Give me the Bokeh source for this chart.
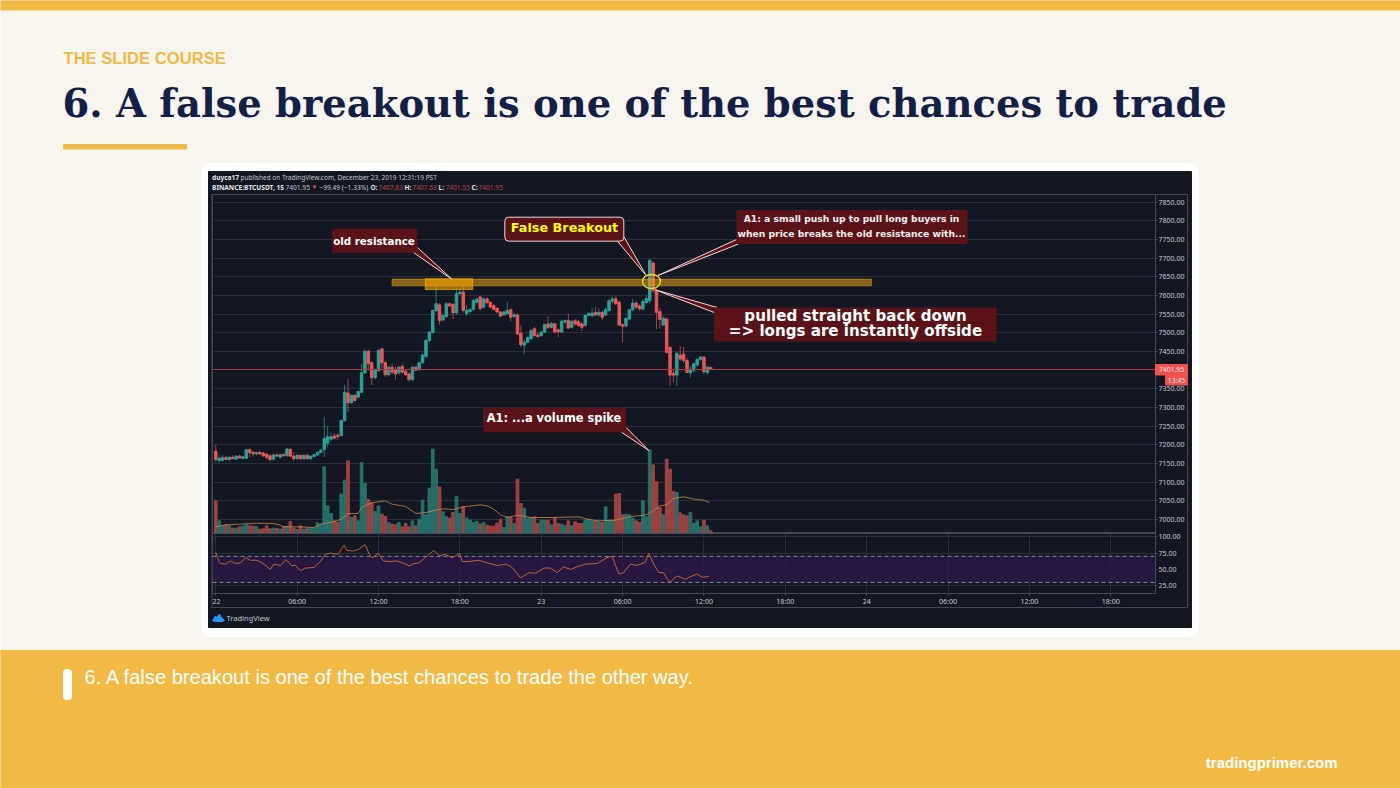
from bokeh.embed import file_html
from bokeh.resources import INLINE
from bokeh.plotting import figure
from bokeh.models import Range1d, FixedTicker, NumeralTickFormatter, Span
from bokeh.core.properties import value

opens = [7183,7158,7159,7166,7161,7167,7162,7170,7164,7164,7187,7180,7176,7180,7178,7175,7171,7162,7173,7167,7174,7171,7188,7170,7164,7172,7163,7172,7163,7169,7173,7180,7188,7205,7215,7224,7226,7225,7265,7339,7313,7332,7328,7341,7393,7451,7420,7380,7399,7457,7420,7388,7408,7402,7393,7410,7397,7390,7375,7408,7402,7420,7437,7480,7502,7560,7575,7535,7544,7578,7576,7554,7605,7609,7552,7557,7563,7582,7596,7569,7591,7582,7573,7566,7556,7548,7551,7562,7544,7548,7499,7467,7475,7484,7511,7494,7493,7502,7524,7515,7524,7508,7502,7529,7533,7515,7533,7530,7524,7520,7547,7546,7555,7548,7555,7548,7560,7585,7591,7582,7522,7518,7537,7562,7580,7572,7564,7581,7586,7687,7613,7557,7521,7537,7461,7392,7387,7440,7443,7426,7393,7400,7414,7429,7435,7394,7407.63]
highs = [7200,7172,7172,7171,7170,7172,7172,7174,7170,7189,7191,7185,7181,7184,7182,7178,7174,7176,7178,7176,7178,7191,7192,7180,7176,7174,7175,7176,7171,7177,7182,7188,7274,7250,7233,7232,7232,7268,7360,7377,7335,7336,7345,7417,7455,7455,7425,7405,7457,7460,7425,7412,7418,7410,7412,7415,7402,7394,7412,7412,7423,7444,7483,7505,7562,7627,7580,7552,7583,7583,7580,7618,7620,7625,7575,7567,7592,7595,7600,7595,7595,7585,7577,7568,7558,7559,7583,7565,7553,7552,7520,7480,7490,7510,7516,7500,7505,7525,7545,7530,7527,7512,7535,7536,7551,7535,7537,7535,7528,7550,7555,7568,7570,7566,7559,7568,7590,7597,7598,7586,7525,7541,7564,7590,7585,7576,7590,7600,7698,7692,7616,7566,7545,7541,7465,7400,7447,7465,7462,7432,7412,7420,7432,7438,7437,7412,7407.63]
lows = [7154,7152,7155,7160,7158,7162,7160,7164,7161,7162,7167,7170,7172,7173,7167,7162,7155,7158,7168,7163,7168,7169,7168,7158,7160,7161,7160,7161,7160,7166,7171,7177,7168,7195,7210,7215,7214,7223,7263,7288,7310,7316,7325,7339,7390,7400,7360,7375,7395,7405,7382,7383,7390,7375,7388,7392,7385,7370,7372,7398,7398,7418,7433,7476,7498,7556,7522,7530,7540,7570,7537,7548,7600,7555,7545,7552,7560,7578,7560,7565,7578,7566,7560,7553,7542,7545,7549,7530,7540,7495,7462,7444,7472,7482,7490,7488,7490,7500,7510,7512,7500,7488,7500,7525,7510,7512,7520,7516,7505,7517,7545,7542,7545,7543,7535,7545,7555,7580,7575,7518,7475,7515,7535,7558,7565,7560,7560,7578,7578,7608,7510,7512,7519,7445,7357,7368,7358,7425,7420,7392,7380,7395,7410,7425,7390,7388,7401.55]
closes = [7161,7164,7166,7161,7167,7163,7170,7165,7168,7187,7180,7176,7180,7176,7171,7167,7161,7173,7170,7174,7171,7189,7170,7163,7172,7163,7172,7163,7170,7174,7180,7186,7217,7222,7222,7218,7222,7265,7341,7313,7332,7319,7343,7393,7451,7417,7380,7402,7453,7420,7388,7408,7395,7390,7408,7395,7388,7375,7408,7400,7420,7441,7480,7502,7560,7578,7533,7547,7578,7572,7554,7605,7609,7560,7560,7563,7587,7590,7565,7591,7581,7569,7563,7556,7545,7556,7560,7542,7549,7497,7468,7475,7488,7506,7493,7490,7502,7522,7515,7525,7502,7503,7531,7533,7513,7531,7524,7520,7515,7547,7552,7553,7548,7555,7542,7562,7586,7591,7578,7521,7518,7539,7562,7580,7569,7564,7584,7592,7694,7613,7555,7536,7539,7448,7387,7387,7446,7430,7426,7394,7403,7417,7429,7435,7396,7408,7401.95]
volumes = [98,38,23,26,23,16,16,20,22,26,23,22,20,13,14,23,14,16,15,13,20,22,36,16,12,23,13,16,16,16,32,28,200,83,60,38,33,118,160,218,48,53,38,213,150,102,93,66,83,58,51,33,28,26,33,20,30,20,38,23,43,100,56,136,253,193,140,65,50,46,63,111,60,80,46,40,33,36,28,33,25,22,22,31,43,18,50,48,30,163,90,76,46,46,50,30,40,40,40,26,48,30,28,24,38,23,35,30,30,40,43,38,38,36,33,80,40,40,118,120,56,58,56,46,38,33,98,50,250,206,155,78,56,223,193,126,123,62,56,53,63,30,38,20,40,23,8]
vol_ma_bar = [0,3,7,12,17,19,20,24,29,31,35,37,39,42,43,46,50,52,56,59,62,65,67,70,73,78,80,82,84,86,89,93,100,107,110,113,118,122,127,129,131,133,135,138,141,144,145.5]
vol_ma = [20,26,28,31,30,25,20,20,18,28,36,43,60,60,78,92,98,88,81,60,63,70,74,72,80,86,83,73,56,48,55,48,48,50,42,38,40,50,56,68,83,86,105,110,103,100,93]
rsi_bar = [0,1,1.4,2.9,4.3,5.8,7.3,8.8,10.2,12.2,14.2,16.1,17.1,19.1,20.7,22.3,23.5,25,26.5,29,31,32.2,33.8,36,37.8,38.7,40.7,42.2,44,45.6,46.4,47.9,49.4,51,53.5,56,57.1,58.4,59.9,61.8,64.3,66,67.7,69.7,71.9,72.7,74.7,77.6,80,83,85.7,87.4,89.9,92.4,94.3,96.8,98.7,100.7,102.6,104.6,106.6,109,112.5,115.4,116.9,118.9,120.3,122.3,124.3,126.7,127.7,129.2,130.7,132,133.9,136.1,138.5,141.9,143.4,145.4]
rsi = [76,61,59,58,63,59,60,68,64,64,58,50,58,56,65,56,56,48,52,53,63,73,75,73,87,79,78,81,88,70,68,75,63,62,63,58,55,59,60,68,79,71,73,68,74,62,62,64,60,56,58,53,37,45,44,52,52,45,54,50,54,58,59,68,70,43,45,58,56,61,75,58,45,45,30,40,35,43,38,39]
price_ticks = [7000,7050,7100,7150,7200,7250,7300,7350,7450,7500,7550,7600,7650,7700,7750,7800,7850]
rsi_ticks = [25,50,75,100]
time_ticks = [0,24,48,72,96,120,144,168,192,216,240,264]
time_labels = ["22","06:00","12:00","18:00","23","06:00","12:00","18:00","24","06:00","12:00","18:00"]
last_price = 7401.95
resistance_low, resistance_high = 7626, 7644
resistance_start, resistance_end = 52, 193.4
touch_low, touch_high = 7616, 7645
touch_start, touch_end = 61.8, 75.8

GOLD = "#F0BA45"; CREAM = "#F8F5EF"; NAVY = "#141F45"; DARK = "#131722"
GRID = "#2a2f3c"; VGRID = "#333947"; FRAME = "#434958"; TICK = "#c9ccd3"
UP = "#2ba296"; DOWN = "#e9575a"; VUP = "#267068"; VDOWN = "#9c4244"
MAROON = "#5a1419"; EDGE = "#f0d9d9"

def place(fig, left, top):
    fig.styles = {"position": "absolute", "left": f"{left}px", "top": f"{top}px"}
    return fig

def page():
    fig = figure(width=1400, height=788, x_range=Range1d(0, 1400), y_range=Range1d(788, 0),
                 x_axis_type=None, y_axis_type=None, toolbar_location=None, output_backend="svg",
                 min_border=0, outline_line_color=None, background_fill_color=None, border_fill_color=None)
    fig.grid.visible = False
    return place(fig, 0, 0)

def txt(fig, x, y, s, font, size, color, style="normal", align="left"):
    fig.text([x], [y], text=[s], text_font=value(font), text_font_size=f"{size}px", text_color=color,
             text_font_style=style, text_align=align, text_baseline="middle")

slide = page()
slide.background_fill_color = CREAM
slide.border_fill_color = CREAM
slide.quad(left=0, right=1400, top=0, bottom=9.5, color=GOLD)
slide.quad(left=0, right=1400, top=650, bottom=788, color=GOLD)
slide.quad(left=63, right=186, top=144, bottom=148.5, color=GOLD)
slide.quad(left=63, right=71, top=669, bottom=699, color="white", border_radius=3)
slide.quad(left=201, right=1198, top=163, bottom=636, color="white", border_radius=10)
slide.quad(left=208, right=1191, top=171, bottom=627, color=DARK)
slide.quad(left=211.5, right=1187, top=194, bottom=607, fill_color=None, line_color=FRAME)
txt(slide, 63, 58, "THE SLIDE COURSE", "Liberation Sans", 16.6, GOLD, "bold")
txt(slide, 62, 102.5, "6. A false breakout is one of the best chances to trade", "DejaVu Serif", 38.5, NAVY, "bold")
txt(slide, 84, 676.5, "6. A false breakout is one of the best chances to trade the other way.", "Liberation Sans", 20.1, "white")
txt(slide, 1337, 762, "tradingprimer.com", "Liberation Sans", 15, "white", "bold", "right")
HF = "Noto Sans"
txt(slide, 211.5, 177, "duyca17", HF, 6.6, "#e6e8ec", "bold")
txt(slide, 240, 177, "published on TradingView.com, December 23, 2019 12:31:19 PST", HF, 6.5, "#c4c7ce")
txt(slide, 211.5, 186.5, "BINANCE:BTCUSDT, 15", HF, 6.6, "#e6e8ec", "bold")
txt(slide, 285, 186.5, "7401.95", HF, 6.6, "#c4c7ce")
txt(slide, 311, 186.5, "▼", HF, 6, DOWN)
txt(slide, 319, 186.5, "−99.49 (−1.33%)", HF, 6.6, "#c4c7ce")
for lx, vx, lab, val in [(370, 378, "O:", "7407.63"), (404, 412, "H:", "7407.63"),
                         (438, 445, "L:", "7401.55"), (471, 478, "C:", "7401.95")]:
    txt(slide, lx, 186.5, lab, HF, 6.6, "#e6e8ec", "bold")
    txt(slide, vx, 186.5, val, HF, 6.6, "#b9474a")
slide.patch([212, 215, 216.5, 219, 221, 224, 222, 214], [620, 615.5, 617, 613.5, 617, 620, 621, 621], color="#2196f3")
txt(slide, 226, 617, "TradingView", HF, 7.5, "#c4c7ce")

price = figure(width=975, height=339, frame_width=943, frame_height=339,
               x_range=Range1d(-0.97, 277.2), y_range=Range1d(6962.8, 7870.6),
               x_axis_type=None, y_axis_location="right", toolbar_location=None, output_backend="svg",
               min_border=0, background_fill_color=DARK, border_fill_color=None, outline_line_color=FRAME)
place(price, 212, 194)
price.extra_y_ranges = {"volume": Range1d(0, 1017)}
bars = list(range(len(closes)))
ups = [c >= o for o, c in zip(opens, closes)]
price.yaxis.ticker = FixedTicker(ticks=price_ticks)
price.yaxis.formatter = NumeralTickFormatter(format="0.00")
price.yaxis.major_label_text_font = "Noto Sans"
price.yaxis.major_label_text_font_size = "7px"
price.yaxis.major_label_text_color = TICK
price.yaxis.axis_line_color = FRAME
price.yaxis.major_tick_line_color = FRAME
price.yaxis.minor_tick_line_color = None
price.yaxis.major_tick_out = 2
price.yaxis.major_tick_in = 0
price.yaxis.major_label_standoff = 1
price.ygrid.grid_line_color = GRID
price.xgrid.grid_line_color = VGRID
price.xgrid.ticker = FixedTicker(ticks=time_ticks)
price.vbar(x=bars, width=0.8, bottom=0, top=volumes, y_range_name="volume",
           color=[VUP if u else VDOWN for u in ups])
price.line(vol_ma_bar, vol_ma, y_range_name="volume", line_color="#c9884e", line_width=0.8)
price.segment(x0=bars, x1=bars, y0=lows, y1=highs, line_width=0.7,
              line_color=[UP if u else DOWN for u in ups])
price.vbar(x=bars, width=0.72, bottom=opens, top=closes, color=[UP if u else DOWN for u in ups])
price.add_layout(Span(location=last_price, dimension="width", line_color="#a83c46", line_width=1, level="overlay"))
price.quad(left=resistance_start, right=resistance_end, bottom=resistance_low, top=resistance_high,
           fill_color="#e8a010", fill_alpha=0.55, line_color="#e8b020", line_alpha=0.5)
price.quad(left=touch_start, right=touch_end, bottom=touch_low, top=touch_high,
           fill_color="#f0a000", fill_alpha=0.65, line_color="#e8b020", line_alpha=0.7)

rsi_fig = figure(width=975, height=74, frame_width=943, frame_height=60,
                 x_range=Range1d(-0.97, 277.2), y_range=Range1d(13, 105),
                 y_axis_location="right", toolbar_location=None, output_backend="svg",
                 min_border=0, background_fill_color=DARK, border_fill_color=None, outline_line_color=FRAME)
place(rsi_fig, 212, 533)
rsi_fig.yaxis.ticker = FixedTicker(ticks=rsi_ticks)
rsi_fig.yaxis.formatter = NumeralTickFormatter(format="0.00")
rsi_fig.xaxis.ticker = FixedTicker(ticks=time_ticks)
rsi_fig.xaxis.major_label_overrides = dict(zip(time_ticks, time_labels))
for ax in (rsi_fig.xaxis, rsi_fig.yaxis):
    ax.major_label_text_font = "Noto Sans"
    ax.major_label_text_font_size = "7px"
    ax.major_label_text_color = TICK
    ax.axis_line_color = FRAME
    ax.major_tick_line_color = FRAME
    ax.minor_tick_line_color = None
    ax.major_tick_out = 2
    ax.major_tick_in = 0
    ax.major_label_standoff = 1
rsi_fig.xgrid.grid_line_color = GRID
rsi_fig.ygrid.grid_line_color = GRID
rsi_fig.quad(left=-0.97, right=277.2, bottom=30, top=70, fill_color="#2c1848", fill_alpha=0.8, line_color=None)
rsi_fig.segment(x0=[-0.97, -0.97], x1=[277.2, 277.2], y0=[70, 30], y1=[70, 30],
                line_color="#a9a6b8", line_dash="4 3", line_width=0.8)
rsi_fig.line(rsi_bar, rsi, line_color="#b9653a", line_width=1)

top = page()
def callout(left, right, t, b, tip, a, c, radius=0, edge=False):
    top.patch([a[0], tip[0], c[0]], [a[1], tip[1], c[1]], color=MAROON)
    top.segment(x0=[a[0], c[0]], y0=[a[1], c[1]], x1=[tip[0], tip[0]], y1=[tip[1], tip[1]],
                line_color=EDGE, line_width=1)
    top.quad(left=left, right=right, top=t, bottom=b, fill_color=MAROON,
             line_color=EDGE if edge else None, border_radius=radius)

callout(331.7, 416.7, 228.3, 252.3, (451.7, 279), (413, 252), (417, 247))
txt(top, 373.5, 240.5, "old resistance", "DejaVu Sans", 10.3, "white", "bold", "center")
callout(504.3, 623.3, 216.7, 240.7, (645.7, 275), (617, 240.7), (623.3, 236), radius=4, edge=True)
txt(top, 564, 227, "False Breakout", "DejaVu Sans", 12.8, "#ffff00", "bold", "center")
callout(736, 967, 209.5, 243.5, (657.4, 275), (736, 239), (738, 243.5))
txt(top, 851, 217.5, "A1: a small push up to pull long buyers in", "DejaVu Sans", 9.2, "#f4eeee", "bold", "center")
txt(top, 851, 233, "when price breaks the old resistance with...", "DejaVu Sans", 9.2, "#f4eeee", "bold", "center")
callout(713.5, 996, 307, 341, (654.7, 289.3), (716.7, 307), (713.7, 312))
txt(top, 855, 315, "pulled straight back down", "DejaVu Sans", 15.1, "white", "bold", "center")
txt(top, 855, 330.5, "=> longs are instantly offside", "DejaVu Sans", 15.1, "white", "bold", "center")
callout(482.7, 625.7, 407.3, 431.7, (648.3, 450), (621, 431.7), (625.7, 427))
txt(top, 553.5, 417.5, "A1: ...a volume spike", "DejaVu Sans", 11.4, "white", "bold", "center")
top.ellipse(x=[651], y=[281], width=[18], height=[14], fill_color=None, line_color="#f2e21e", line_width=1.4)
top.quad(left=1155, right=1187, top=364, bottom=374.5, color="#ef5350")
top.quad(left=1165, right=1187, top=375, bottom=384.5, color="#ef5350")
txt(top, 1171, 369.3, "7401.95", "Noto Sans", 6.8, "#fde8e8", "normal", "center")
txt(top, 1176, 379.8, "13:45", "Noto Sans", 6.8, "#fde8e8", "normal", "center")

open("out.html", "w").write(file_html([slide, price, rsi_fig, top], INLINE, title="False breakout"))
